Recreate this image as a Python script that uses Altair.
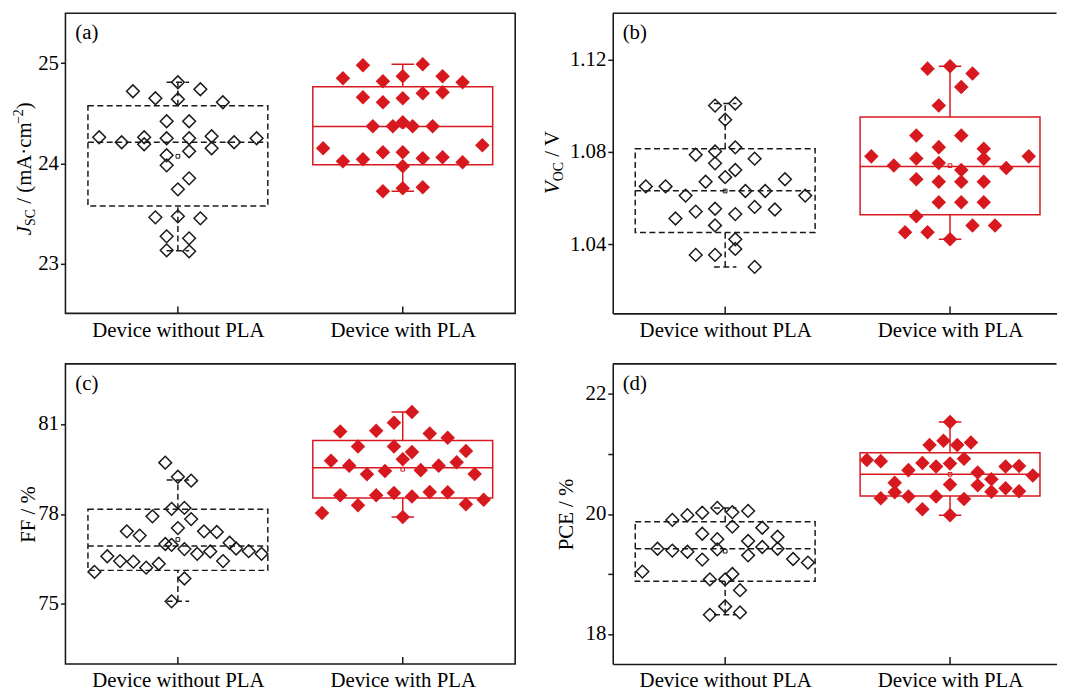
import altair as alt
import pandas as pd

SERIF = "Liberation Serif"
BLACK = "#1a1a1a"
RED = "#d7191f"

GROUPS = ["Device without PLA", "Device with PLA"]
CAT_POS = [1, 2]

# ---------------- (a) Jsc ----------------
jsc_without = [24.72, 24.65, 24.81, 24.64, 24.74, 24.61, 24.42, 24.42, 24.26, 24.21,
               24.26, 24.19, 24.25, 24.25, 24.27, 24.15, 24.21, 24.25, 24.08, 23.98,
               24.12, 23.85, 23.74, 23.46, 23.47, 23.45, 23.27, 23.25, 23.13, 23.12]
jsc_without_jitter = [-0.20, -0.10, 0.0, 0.0, 0.10, 0.20, -0.05, 0.05, -0.35, -0.25,
                      -0.15, -0.15, -0.05, 0.05, 0.15, 0.15, 0.25, 0.35, -0.05, -0.05,
                      0.05, 0.05, 0.0, -0.10, 0.0, 0.10, -0.05, 0.05, -0.05, 0.05]
jsc_with = [24.98, 24.99, 24.85, 24.82, 24.87, 24.87, 24.81, 24.66, 24.61, 24.65,
            24.70, 24.71, 24.37, 24.37, 24.41, 24.37, 24.37, 24.15, 24.02, 24.04,
            24.11, 24.11, 24.05, 24.06, 24.01, 24.18, 23.97, 23.72, 23.75, 23.76]
jsc_with_jitter = [-0.177, 0.089, -0.266, -0.088, 0.0, 0.177, 0.266, -0.177, -0.088, 0.0,
                   0.089, 0.177, -0.133, -0.044, 0.0, 0.044, 0.133, -0.354, -0.266, -0.177,
                   -0.088, 0.0, 0.089, 0.177, 0.266, 0.354, 0.0, -0.088, 0.0, 0.089]
jsc_q1 = [23.573, 23.985]
jsc_median = [24.21, 24.367]
jsc_q3 = [24.575, 24.766]
jsc_low = [23.125, 23.72]
jsc_high = [24.81, 24.99]
jsc_mean = [24.07, 24.37]

# ---------------- (b) Voc ----------------
voc_without = [1.1000, 1.1009, 1.0939, 1.0819, 1.0787, 1.0801, 1.0750, 1.0770, 1.0721, 1.0690,
               1.0670, 1.0681, 1.0650, 1.0650, 1.0610, 1.0630, 1.0630, 1.0610, 1.0511, 1.0541,
               1.0553, 1.0530, 1.0561, 1.0550, 1.0481, 1.0421, 1.0379, 1.0353, 1.0353, 1.0301]
voc_without_jitter = [-0.045, 0.045, 0.0, 0.045, -0.131, -0.045, -0.045, 0.131, 0.045, 0.0,
                      -0.087, 0.266, -0.353, -0.265, -0.176, 0.090, 0.178, 0.356, -0.221, -0.131,
                      -0.045, 0.045, 0.131, 0.221, -0.045, 0.045, 0.045, -0.131, -0.045, 0.131]
voc_with = [1.1160, 1.1170, 1.1139, 1.1080, 1.1000, 1.0870, 1.0870, 1.0820, 1.0813, 1.0780,
            1.0771, 1.0770, 1.0780, 1.0740, 1.0751, 1.0721, 1.0730, 1.0681, 1.0670, 1.0670,
            1.0670, 1.0581, 1.0581, 1.0581, 1.0521, 1.0451, 1.0451, 1.0481, 1.0481, 1.0421]
voc_with_jitter = [-0.10, 0.0, 0.10, 0.05, -0.05, -0.15, 0.05, -0.05, 0.15, -0.35,
                   -0.15, 0.15, 0.35, -0.25, -0.05, 0.05, 0.25, -0.15, -0.05, 0.05,
                   0.15, -0.05, 0.05, 0.15, -0.15, -0.20, -0.10, 0.10, 0.20, 0.0]
voc_q1 = [1.0450, 1.0527]
voc_median = [1.0631, 1.0736]
voc_q3 = [1.0813, 1.0951]
voc_low = [1.0301, 1.0421]
voc_high = [1.1009, 1.1170]
voc_mean = [1.0630, 1.0740]

# ---------------- (c) FF ----------------
ff_without = [79.71, 79.24, 79.11, 77.92, 78.17, 78.20, 77.83, 77.53, 77.42, 77.28,
              77.42, 77.40, 77.00, 76.97, 76.83, 76.67, 76.75, 77.04, 76.85, 76.76,
              76.67, 76.43, 76.59, 76.43, 76.41, 76.21, 76.34, 76.07, 75.85, 75.09]
ff_without_jitter = [-0.056, 0.0, 0.059, -0.113, -0.028, 0.029, 0.059, 0.0, -0.227, -0.170,
                     0.116, 0.173, -0.056, -0.028, 0.029, 0.086, 0.144, 0.230, 0.259, 0.315,
                     0.372, 0.201, -0.314, -0.257, -0.198, -0.141, -0.085, -0.371, 0.029, -0.028]
ff_with = [81.40, 81.04, 80.75, 80.77, 80.68, 80.54, 80.25, 80.25, 80.06, 80.10,
           79.77, 79.61, 79.82, 79.72, 79.61, 79.32, 79.43, 79.46, 79.33, 78.62,
           78.62, 78.70, 78.58, 78.73, 78.72, 78.29, 78.32, 78.47, 78.03, 77.90]
ff_with_jitter = [0.041, -0.039, -0.278, -0.118, 0.120, 0.200, -0.199, -0.039, 0.041, 0.281,
                  -0.319, -0.238, 0.0, 0.240, 0.160, -0.159, -0.079, 0.080, 0.320, -0.278,
                  -0.118, -0.039, 0.041, 0.120, 0.200, -0.199, 0.281, 0.360, -0.359, 0.0]
ff_q1 = [76.12, 78.53]
ff_median = [76.93, 79.54]
ff_q3 = [78.16, 80.45]
ff_low = [75.09, 77.90]
ff_high = [79.13, 81.40]
ff_mean = [77.15, 79.49]

# ---------------- (d) PCE ----------------
pce_without = [20.10, 20.02, 19.98, 19.90, 20.03, 20.05, 19.79, 19.77, 19.67, 19.58,
               19.55, 19.62, 19.42, 19.39, 19.37, 19.41, 19.24, 19.31, 19.45, 19.42,
               19.25, 19.19, 19.04, 18.91, 18.91, 19.00, 18.73, 18.46, 18.32, 18.36]
pce_without_jitter = [-0.035, -0.102, -0.168, -0.235, 0.032, 0.102, 0.032, 0.165, -0.102, -0.035,
                      0.102, 0.233, -0.301, -0.235, -0.168, -0.035, -0.102, 0.102, 0.165, 0.233,
                      0.302, 0.368, -0.368, -0.068, 0.0, 0.032, 0.066, 0.0, -0.068, 0.066]
pce_with = [21.53, 21.15, 21.22, 21.15, 21.19, 20.90, 20.88, 20.85, 20.79, 20.84,
            20.92, 20.73, 20.69, 20.79, 20.80, 20.64, 20.52, 20.49, 20.48, 20.58,
            20.36, 20.26, 20.29, 20.29, 20.25, 20.37, 20.43, 20.38, 20.08, 19.98]
pce_with_jitter = [0.0, -0.091, -0.029, 0.032, 0.093, -0.370, -0.308, -0.123, -0.062, 0.0,
                   0.062, -0.185, 0.123, 0.247, 0.307, 0.368, -0.246, 0.0, 0.123, 0.184,
                   -0.246, -0.308, -0.185, -0.062, 0.062, 0.184, 0.247, 0.307, -0.123, 0.0]
pce_q1 = [18.88, 20.30]
pce_median = [19.42, 20.66]
pce_q3 = [19.87, 21.02]
pce_low = [18.32, 19.98]
pce_high = [20.10, 21.53]
pce_mean = [19.38, 20.66]

# ---------------- layout / style ----------------
H = 303
W1 = 454
W2 = 448
PX_PER_UNIT = 227.0
BOX_HALF = 0.4
CAP_HALF = 0.05
FS = 21
SFS = 14
GROUP_STYLE = [dict(color=BLACK, dash=[6, 3.5]), dict(color=RED, dash=[1, 0])]

REG = {' ': 250, '/': 278, '(': 333, ')': 333, 'm': 778, 'A': 722, '\u00b7': 250,
       'c': 444, 'F': 556, '%': 833, 'P': 556, 'C': 667, 'E': 611, 'V': 722, 'S': 556,
       'O': 722, '\u2212': 564, '2': 500}
ITA = {'J': 444, 'V': 611}


def text_width(t, size, italic):
    table = ITA if italic else REG
    return sum(table.get(ch, REG.get(ch, 500)) for ch in t) * size / 1000.0


def title_layers(pieces, base_x, center_y):
    # pieces: (text, kind, leading space in em of the main font)
    adv = []
    for t, kind, gap in pieces:
        size = SFS if kind in ("sub", "sup") else FS
        adv.append((gap * FS, text_width(t, size, kind == "it")))
    total = sum(g + w for g, w in adv)
    y = center_y + total / 2.0
    out = []
    for (t, kind, gap), (g, w) in zip(pieces, adv):
        y -= g
        size = SFS if kind in ("sub", "sup") else FS
        dx = 4 if kind == "sub" else (-8 if kind == "sup" else 0)
        out.append(
            alt.Chart(alt.Data(values=[{}])).mark_text(
                text=t, angle=270, align="left", baseline="alphabetic",
                font=SERIF, fontSize=size,
                fontStyle="italic" if kind == "it" else "normal", color="black"
            ).encode(x=alt.value(base_x + dx), y=alt.value(y))
        )
        y -= w
    return out


def panel(letter, v0, o0, v1, o1, q1, med, q3, lo, hi, mean, ydom, yvals, yfmt,
          ylabel_expr, pieces, title_x, title_cy, W, left_col):
    xmax = 0.5 + W / PX_PER_UNIT
    pts = pd.DataFrame({
        "grp": [GROUPS[0]] * len(v0) + [GROUPS[1]] * len(v1),
        "cat": [CAT_POS[0]] * len(v0) + [CAT_POS[1]] * len(v1),
        "off": list(o0) + list(o1),
        "val": list(v0) + list(v1),
    })
    box = pd.DataFrame({"grp": GROUPS, "cat": CAT_POS, "q1": q1, "med": med, "q3": q3,
                        "lo": lo, "hi": hi, "mean": mean})
    xs = alt.Scale(domain=[0.5, xmax], nice=False, zero=False)
    ys = alt.Scale(domain=ydom, nice=False, zero=False)

    lab_expr = "datum.value == {} ? '{}' : '{}'".format(CAT_POS[0], GROUPS[0], GROUPS[1])
    xaxis = alt.Axis(values=CAT_POS, labelExpr=lab_expr, ticks=False, tickSize=0,
                     labelPadding=6, labelFontSize=FS, labelFont=SERIF, labelColor="black",
                     grid=False, title=None, domain=not left_col, domainColor=BLACK,
                     domainWidth=1.6, labelFlush=False)
    ykw = dict(values=yvals, format=yfmt, tickSize=5, tickWidth=1.5, tickColor=BLACK,
               labelPadding=2, labelFontSize=FS, labelFont=SERIF, labelColor="black",
               grid=False, title=None, domain=not left_col, domainColor=BLACK,
               domainWidth=1.6)
    if ylabel_expr:
        ykw["labelExpr"] = ylabel_expr
    yaxis = alt.Axis(**ykw)

    def X(f):
        return alt.X(f, scale=xs, axis=xaxis)

    def Y(f):
        return alt.Y(f, scale=ys, axis=yaxis)

    layers = []
    for gi, g in enumerate(GROUPS):
        st = GROUP_STYLE[gi]
        bb = alt.Chart(box).transform_filter(alt.datum.grp == g).transform_calculate(
            xl="datum.cat - %f" % BOX_HALF, xr="datum.cat + %f" % BOX_HALF,
            cl="datum.cat - %f" % CAP_HALF, cr="datum.cat + %f" % CAP_HALF)
        common = dict(stroke=st["color"], strokeWidth=1.5, strokeDash=st["dash"])
        layers += [
            bb.mark_rect(fillOpacity=0, **common).encode(
                x=X("xl:Q"), x2="xr:Q", y=Y("q1:Q"), y2="q3:Q"),
            bb.mark_rule(**common).encode(x=X("xl:Q"), x2="xr:Q", y=Y("med:Q")),
            bb.mark_rule(**common).encode(x=X("cat:Q"), y=Y("q3:Q"), y2="hi:Q"),
            bb.mark_rule(**common).encode(x=X("cat:Q"), y=Y("lo:Q"), y2="q1:Q"),
            bb.mark_rule(**common).encode(x=X("cl:Q"), x2="cr:Q", y=Y("hi:Q")),
            bb.mark_rule(**common).encode(x=X("cl:Q"), x2="cr:Q", y=Y("lo:Q")),
        ]

    pb = alt.Chart(pts).transform_calculate(px="datum.cat + datum.off")
    layers.append(pb.transform_filter(alt.datum.grp == GROUPS[0]).mark_point(
        shape="diamond", size=165, filled=False, strokeWidth=1.5, color=BLACK, opacity=1
    ).encode(x=X("px:Q"), y=Y("val:Q")))
    layers.append(pb.transform_filter(alt.datum.grp == GROUPS[1]).mark_point(
        shape="diamond", size=215, filled=True, color=RED, opacity=1
    ).encode(x=X("px:Q"), y=Y("val:Q")))

    for gi, g in enumerate(GROUPS):
        layers.append(alt.Chart(box).transform_filter(alt.datum.grp == g).mark_point(
            shape="square", size=14, filled=False, strokeWidth=1,
            color=GROUP_STYLE[gi]["color"], opacity=1
        ).encode(x=X("cat:Q"), y=Y("mean:Q")))

    layers.append(alt.Chart(box).mark_rule(color=BLACK, strokeWidth=1.5).encode(
        x=X("cat:Q"), y=alt.value(H), y2=alt.value(H - 7)))

    layers.append(alt.Chart(alt.Data(values=[{}])).mark_text(
        text="(%s)" % letter, align="left", baseline="alphabetic", font=SERIF,
        fontSize=FS, color="black").encode(x=alt.value(10), y=alt.value(26)))

    if not left_col:
        layers.append(alt.Chart(alt.Data(values=[{}])).mark_rule(
            color=BLACK, strokeWidth=1.6).encode(y=alt.value(0)))
    layers += title_layers(pieces, title_x, title_cy)

    props = dict(width=W, height=H)
    if not left_col:
        props["view"] = alt.ViewBackground(stroke="transparent")
    return alt.layer(*layers).properties(**props)


pa = panel("a", jsc_without, jsc_without_jitter, jsc_with, jsc_with_jitter,
           jsc_q1, jsc_median, jsc_q3, jsc_low, jsc_high, jsc_mean,
           [22.5, 25.5], [23, 23.5, 24, 24.5, 25], "d",
           "datum.value % 1 == 0 ? datum.label : ''",
           [("J", "it", 0), ("SC", "sub", 0), ("/ (mA\u00b7cm", "n", 0.25),
            ("\u22122", "sup", 0), (")", "n", 0)],
           -34.5, 157, W1, True)
pb_ = panel("b", voc_without, voc_without_jitter, voc_with, voc_with_jitter,
            voc_q1, voc_median, voc_q3, voc_low, voc_high, voc_mean,
            [1.01, 1.14], [1.04, 1.08, 1.12], ".2f", None,
            [("V", "it", 0), ("OC", "sub", 0), ("/ V", "n", 0.25)],
            -54, 150.5, W2, False)
pc = panel("c", ff_without, ff_without_jitter, ff_with, ff_with_jitter,
           ff_q1, ff_median, ff_q3, ff_low, ff_high, ff_mean,
           [73, 83], [75, 78, 81], "d", None,
           [("FF / %", "n", 0)],
           -31, 152, W1, True)
pd_ = panel("d", pce_without, pce_without_jitter, pce_with, pce_with_jitter,
            pce_q1, pce_median, pce_q3, pce_low, pce_high, pce_mean,
            [17.5, 22.5], [18, 19, 20, 21, 22], "d",
            "datum.value % 2 == 0 ? datum.label : ''",
            [("PCE / %", "n", 0)],
            -40, 152, W2, False)

chart = alt.concat(
    pa, pb_, pc, pd_, columns=2,
    spacing=alt.RowColnumber(row=51, column=98.5), bounds="flush"
).properties(
    padding={"left": 3, "top": 0, "right": 0, "bottom": 0}
).configure(
    font=SERIF,
    view=alt.ViewConfig(stroke=BLACK, strokeWidth=1.6),
)

chart.save("out.html", embed_options={"renderer": "svg", "actions": False})
